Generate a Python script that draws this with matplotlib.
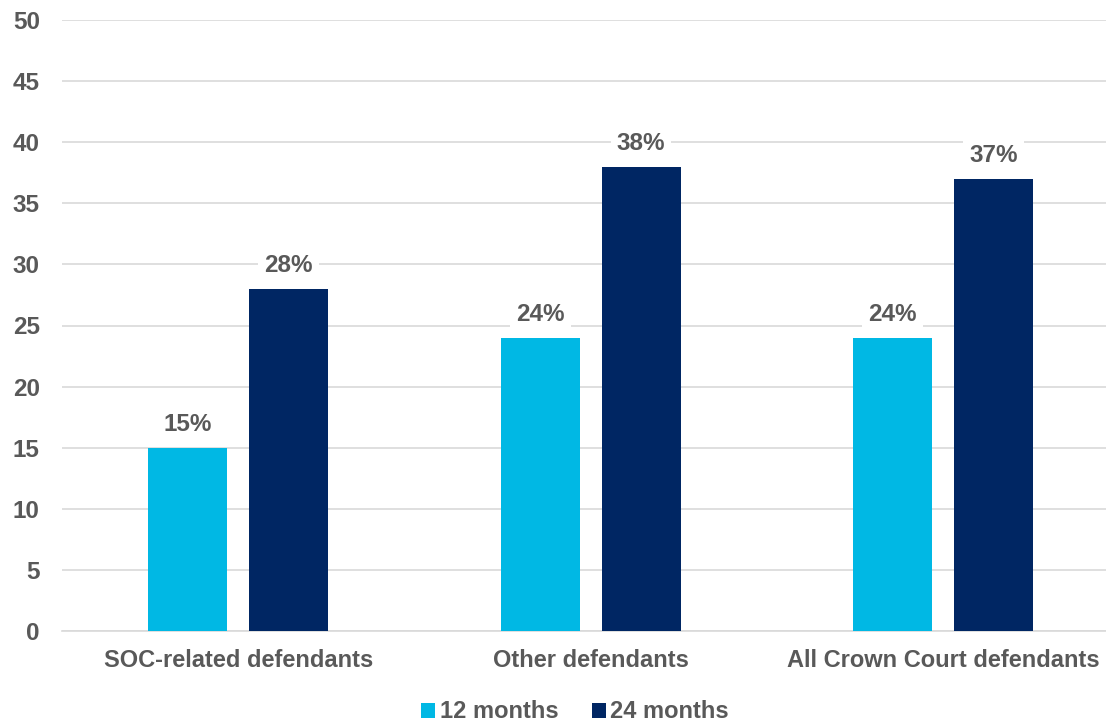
import matplotlib
matplotlib.use("Agg")
import matplotlib.pyplot as plt
import numpy as np

categories = ["SOC-related defendants", "Other defendants", "All Crown Court defendants"]
series_names = ["12 months", "24 months"]
months12 = [15, 24, 24]
months24 = [28, 38, 37]
yticks = list(range(0, 55, 5))

colors = ["#00B8E4", "#002663"]
txt = "#595959"

plt.rcParams['font.family'] = ['Liberation Sans', 'DejaVu Sans']
plt.rcParams['font.weight'] = 'bold'

fig = plt.figure(figsize=(11.06, 7.22), dpi=100)
ax = fig.add_axes([62/1106, 91/722, 1 - 62/1106, (631-20)/722])

x = np.arange(len(categories))
w = 0.224
off = 0.143
for vals, dx, c, name in [(months12, -off, colors[0], series_names[0]), (months24, off, colors[1], series_names[1])]:
    bars = ax.bar(x + dx, vals, w, color=c, label=name, zorder=3)
    for b, v in zip(bars, vals):
        ax.annotate(f"{v}%", (b.get_x() + b.get_width()/2, v), xytext=(0, 17), textcoords="offset points",
                    ha="center", va="center", fontsize=17.5, fontweight="bold", color=txt, zorder=4,
                    bbox=dict(boxstyle="square,pad=0.25", fc="white", ec="none"))

ax.set_ylim(0, 50)
ax.set_yticks(yticks)
ax.set_xlim(-0.5, 2.462)
ax.set_xticks(x)
ax.set_xticklabels(categories, fontsize=17, fontweight="bold", color=txt)
ax.tick_params(axis="y", labelsize=17.5, labelcolor=txt, length=0, pad=16)
ax.tick_params(axis="x", length=0, pad=13)
ax.grid(axis="y", color="#D9D9D9", linewidth=1.2, zorder=0)
for s in ["top", "right", "left"]:
    ax.spines[s].set_visible(False)
ax.spines["bottom"].set_color("#D9D9D9")
ax.spines["bottom"].set_linewidth(1.2)

leg = fig.legend(loc="center", bbox_to_anchor=(575/1106, 1 - 712/722), ncol=2, frameon=False,
                 prop=dict(size=17, weight="bold"), handlelength=0.6, handleheight=0.6,
                 handletextpad=0.2, columnspacing=1.4)
for t in leg.get_texts():
    t.set_color(txt)

fig.savefig("out.png", dpi=100)
